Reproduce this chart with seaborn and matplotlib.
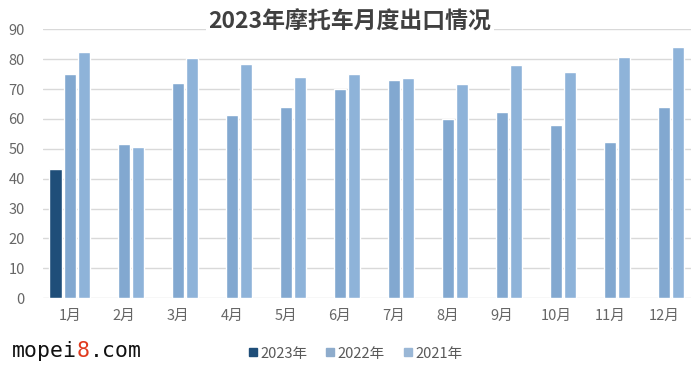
import matplotlib
matplotlib.use("Agg")
import matplotlib.pyplot as plt
import seaborn as sns
import pandas as pd
from matplotlib.lines import Line2D

months = ["1月", "2月", "3月", "4月", "5月", "6月", "7月", "8月", "9月", "10月", "11月", "12月"]
series_names = ["2023年", "2022年", "2021年"]
v2023 = [43.2]
v2022 = [75.2, 51.7, 72.2, 61.2, 63.9, 70.2, 72.9, 59.9, 62.2, 57.9, 52.3, 63.9]
v2021 = [82.4, 50.6, 80.3, 78.3, 74.0, 75.0, 73.7, 71.8, 78.1, 75.6, 80.7, 84.2]
yticks = [0, 10, 20, 30, 40, 50, 60, 70, 80, 90]
colors = ["#1f4e79", "#82a8d0", "#8eb3d9"]
legend_colors = ["#1f4e79", "#8eaccc", "#9ab7d6"]

rows = []
for m, v in zip(months, v2023):
    rows.append((m, series_names[0], v))
for m, v in zip(months, v2022):
    rows.append((m, series_names[1], v))
for m, v in zip(months, v2021):
    rows.append((m, series_names[2], v))
df = pd.DataFrame(rows, columns=["month", "year", "value"])

sns.set_theme(style="white")
plt.rcParams["font.family"] = ["Noto Sans CJK SC", "DejaVu Sans"]

fig = plt.figure(figsize=(7.0, 3.73), dpi=100)
ax = fig.add_axes([0.0614, 0.201, 0.9256, 0.720])

sns.barplot(data=df, x="month", y="value", hue="year", order=months,
            hue_order=series_names, palette=colors, width=0.8, gap=0.15,
            saturation=1, ax=ax, legend=False, errorbar=None)

ax.set_ylim(0, 90)
ax.set_yticks(yticks)
ax.set_xlim(-0.5, len(months) - 0.5)
ax.yaxis.grid(True, color="#d9d9d9", lw=1)
ax.set_axisbelow(True)
for s in ax.spines.values():
    s.set_visible(False)
ax.set_xlabel("")
ax.set_ylabel("")
ax.tick_params(axis="both", length=0, labelsize=10.5, labelcolor="#666666")
ax.tick_params(axis="y", pad=13)
ax.tick_params(axis="x", pad=8)

fig.text(0.5, 0.94, "2023年摩托车月度出口情况", ha="center", va="center",
         fontsize=16.5, fontweight="bold", color="#404040",
         bbox=dict(facecolor="white", edgecolor="none", pad=2))

handles = [Line2D([], [], marker="s", ls="none", color=c, markersize=6) for c in legend_colors]
fig.legend(handles, series_names, loc="center", bbox_to_anchor=(0.508, 0.052),
           ncol=3, frameon=False, fontsize=10.5, labelcolor="#595959",
           handlelength=0.6, handletextpad=0.2, columnspacing=1.3)

fig.text(0.017, 0.058, "mopei", ha="left", va="center", fontsize=15.5,
         family="DejaVu Sans Mono", color="#111111")
fig.text(0.017 + 5 * 0.0185, 0.058, "8", ha="left", va="center", fontsize=15.5,
         family="DejaVu Sans Mono", color="#e03a1e")
fig.text(0.017 + 6 * 0.0185, 0.058, ".com", ha="left", va="center", fontsize=15.5,
         family="DejaVu Sans Mono", color="#111111")

fig.savefig("out.png", dpi=100)
